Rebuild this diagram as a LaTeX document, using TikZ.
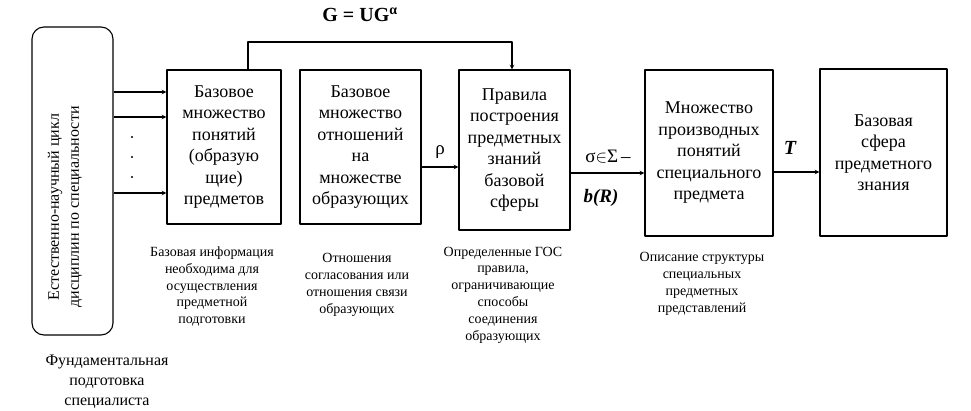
\documentclass[tikz,border=0pt]{standalone}
\usepackage{fontspec}
\setmainfont{Liberation Serif}
\usetikzlibrary{arrows}
\begin{document}
\begin{tikzpicture}[x=1pt,y=-1pt,line join=round,>=stealth,
	box/.style={draw,line width=1.1pt,align=center,inner sep=0pt,font=\fontsize{18}{21.5}\selectfont},
	note/.style={align=center,font=\fontsize{14}{16.8}\selectfont},
	sym/.style={font=\fontsize{19}{22}\selectfont}]
	\useasboundingbox (0,0) rectangle (971,411);
	% source block
	\node[box,rounded corners=12pt,minimum width=81,minimum height=308] (src) at (72.5,181) {};
	\node[rotate=90,align=center,font=\fontsize{16}{20}\selectfont] (srctext) at (65,207) {Естественно-научный цикл\\дисциплин по специальности};
	\node[align=center,font=\fontsize{16}{20}\selectfont] (fund) at (107,382) {Фундаментальная\\подготовка\\специалиста};
	% main chain
	\node[box,minimum width=114,minimum height=154] (b1) at (224,147) {Базовое\\множество\\понятий\\(образую\\щие)\\предметов};
	\node[box,minimum width=121,minimum height=154] (b2) at (360.5,147) {Базовое\\множество\\отношений\\на\\множестве\\образующих};
	\node[box,minimum width=111,minimum height=160] (b3) at (514.5,150) {Правила\\построения\\предметных\\знаний\\базовой\\сферы};
	\node[box,minimum width=128,minimum height=166] (b4) at (709,153) {Множество\\производных\\понятий\\специального\\предмета};
	\node[box,minimum width=127,minimum height=167] (b5) at (883.5,152.5) {Базовая\\сфера\\предметного\\знания};
	% notes
	\node[note] (n1) at (212,286.5) {Базовая информация\\необходима для\\осуществления\\предметной\\подготовки};
	\node[note] (n2) at (357,285) {Отношения\\согласования или\\отношения связи\\образующих};
	\node[note] (n3) at (503,295) {Определенные ГОС\\правила,\\ограничивающие\\способы\\соединения\\образующих};
	\node[note] (n4) at (702,284) {Описание структуры\\специальных\\предметных\\представлений};
	% connectors
	\foreach \y in {92,117,193}{
		\draw[->,line width=1.1pt] (src.east |- 0,\y) -- (b1.west |- 0,\y);
	}
	\foreach \y in {137,157,177}{
		\fill (132,\y) circle (1.2);
	}
	\coordinate (fb) at (512,42);
	\draw[->,line width=1.1pt] (b1.north -| 248,0) |- (fb) -- (b3.north -| fb);
	\draw[->,line width=1.1pt] (b2.east |- 0,167) -- (b3.west |- 0,167);
	\draw[->,line width=1.1pt] (b3.east |- 0,173) -- (b4.west |- 0,173);
	\draw[->,line width=1.1pt] (b4.east |- 0,172) -- (b5.west |- 0,172);
	% labels
	\node[font=\fontsize{20}{24}\selectfont\bfseries] (G) at (360,15) {G = UG\textsuperscript{α}};
	\node[sym] (rho) at (440,152) {ρ};
	\node[sym] (sigma) at (608,157) {σ$\in$Σ\,–};
	\node[sym,font=\fontsize{19}{22}\selectfont\bfseries\itshape] (bR) at (601,198) {b(R)};
	\node[sym,font=\fontsize{20}{22}\selectfont\bfseries\itshape] (T) at (790,148) {T};
\end{tikzpicture}
\end{document}
